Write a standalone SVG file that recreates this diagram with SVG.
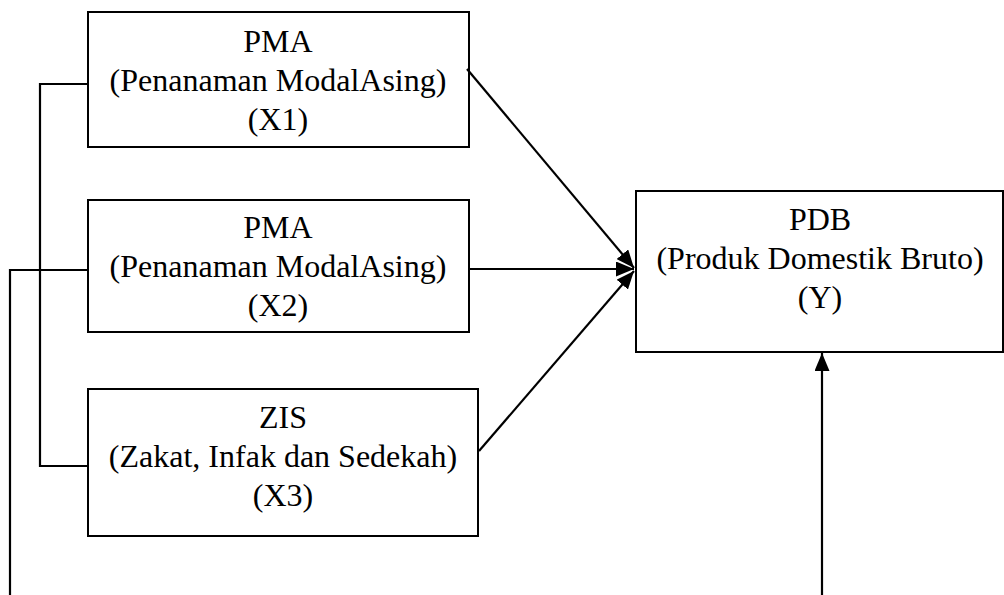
<svg xmlns="http://www.w3.org/2000/svg" width="1004" height="595" viewBox="0 0 1004 595">
<style>
.box{fill:#fff;stroke:#000;stroke-width:2}
.t{font-family:'Liberation Serif','DejaVu Serif',serif;font-size:32px;fill:#000;text-anchor:middle}
.ln{fill:none;stroke:#000;stroke-width:2.2}
</style>
<defs>
<marker id="a" viewBox="0 0 18 15" refX="18" refY="7.5" markerWidth="18" markerHeight="15" markerUnits="userSpaceOnUse" orient="auto">
<path d="M0,0 L18,7.5 L0,15 z" fill="#000"/>
</marker>
</defs>
<rect width="1004" height="595" fill="#fff"/>
<g id="x1">
<rect class="box" x="88" y="12" width="381" height="135"/>
<text class="t" x="278" y="52">PMA</text>
<text class="t" x="278" y="91">(Penanaman ModalAsing)</text>
<text class="t" x="278" y="130">(X1)</text>
</g>
<g id="x2">
<rect class="box" x="88" y="200" width="381" height="132"/>
<text class="t" x="278" y="238">PMA</text>
<text class="t" x="278" y="277">(Penanaman ModalAsing)</text>
<text class="t" x="278" y="316">(X2)</text>
</g>
<g id="x3">
<rect class="box" x="88" y="389" width="390" height="147"/>
<text class="t" x="283" y="428">ZIS</text>
<text class="t" x="283" y="467">(Zakat, Infak dan Sedekah)</text>
<text class="t" x="283" y="506">(X3)</text>
</g>
<g id="y">
<rect class="box" x="636" y="191" width="367" height="161"/>
<text class="t" x="820" y="230">PDB</text>
<text class="t" x="820" y="269">(Produk Domestik Bruto)</text>
<text class="t" x="820" y="308">(Y)</text>
</g>
<g id="connectors">
<line class="ln" x1="467" y1="69" x2="634" y2="268" marker-end="url(#a)"/>
<line class="ln" x1="469" y1="269" x2="634" y2="269" marker-end="url(#a)"/>
<line class="ln" x1="479" y1="451" x2="634" y2="271" marker-end="url(#a)"/>
<line class="ln" x1="822" y1="595" x2="822" y2="353" marker-end="url(#a)"/>
<polyline class="ln" points="88,84 40,84 40,466 88,466"/>
<polyline class="ln" points="88,270 10,270 10,595"/>
</g>
</svg>
